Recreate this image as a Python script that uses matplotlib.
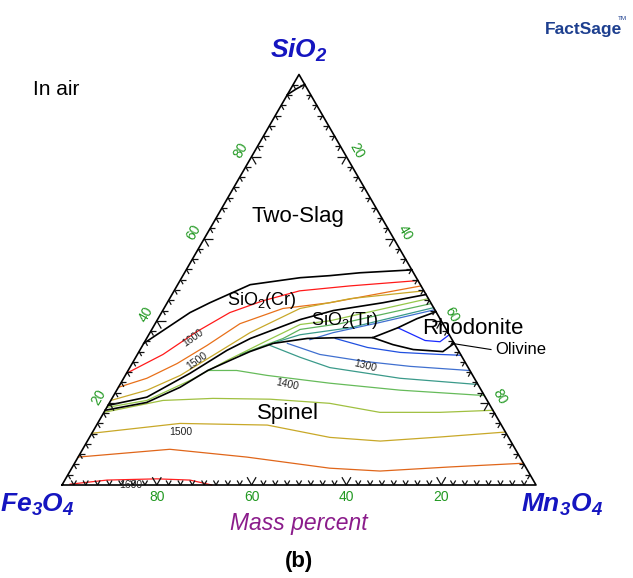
import numpy as np
import matplotlib.pyplot as plt
from matplotlib.collections import LineCollection

plt.rcParams['font.family'] = ['Liberation Sans', 'DejaVu Sans']
plt.rcParams['mathtext.fontset'] = 'custom'
plt.rcParams['mathtext.rm'] = 'Liberation Sans'
plt.rcParams['mathtext.it'] = 'Liberation Sans:italic'
plt.rcParams['mathtext.bf'] = 'Liberation Sans:bold:italic'

# compositions in mass percent as (SiO2, Mn3O4); Fe3O4 makes up the rest
two_slag_top = [(95.1, 0.0), (96.5, 1.2), (97.6, 2.4)]
two_slag_bottom = [(34.5, 0.0), (42.0, 6.0), (44.4, 9.0), (48.8, 15.3), (50.5, 25.0),
                   (51.0, 31.0), (51.7, 37.0), (52.4, 47.6)]
cr_tr_boundary = [(19.4, 0.0), (21.4, 7.2), (27.2, 13.4), (32.8, 18.4), (35.7, 21.9),
                  (40.3, 30.1), (42.5, 36.0), (44.4, 45.5), (46.4, 53.6)]
silica_boundary = [(18.2, 0.0), (20.1, 7.8), (23.8, 13.0), (27.9, 16.8), (30.3, 20.2),
                   (32.5, 23.4), (34.5, 27.3), (35.7, 33.9), (35.9, 40.7), (35.9, 47.6),
                   (38.3, 51.7), (40.5, 54.6), (42.2, 57.8)]
rhodonite_spinel = [(35.9, 47.6), (34.2, 52.7), (33.0, 57.6), (32.5, 64.1), (34.5, 65.5)]

# isotherms: (temperature, colour, points)
cristobalite_iso = [
    (1600, '#ff1a1a', [(27.2, 0.0), (31.8, 5.4), (37.4, 9.8), (42.0, 14.4), (44.9, 20.0),
                       (47.3, 26.5), (48.5, 36.5), (49.8, 50.2)]),
    (1550, '#e8701a', [(23.8, 0.0), (26.0, 4.9), (29.6, 9.5), (34.0, 13.6), (39.3, 17.9),
                       (43.0, 25.1), (44.4, 34.3), (48.5, 51.5)]),
    (1500, '#c8a82a', [(20.6, 0.0), (23.1, 6.4), (26.7, 11.6), (31.6, 16.1), (37.1, 21.1),
                       (43.0, 28.7), (45.4, 38.1), (47.3, 52.7)]),
]
tridymite_iso = [
    (1450, '#96c84a', [(18.9, 0.0), (20.6, 7.6), (25.5, 14.3), (30.3, 19.6), (35.2, 25.7),
                       (39.1, 30.7), (40.0, 36.5), (45.4, 54.6)]),
    (1400, '#5cb25c', [(31.8, 21.7), (35.7, 28.8), (37.9, 31.3), (39.3, 39.0), (44.2, 55.8)]),
    (1350, '#3a9a8a', [(34.7, 27.5), (36.6, 31.9), (38.3, 41.6), (43.2, 56.8)]),
    (1300, '#4070d0', [(35.4, 34.6), (37.1, 38.6), (39.6, 47.3), (42.7, 57.3)]),
]
rhodonite_iso = [
    (1250, '#1a2aff', [(38.3, 51.7), (36.9, 55.0), (35.2, 59.0), (34.9, 62.3), (36.6, 63.4)]),
]
spinel_iso = [
    (1250, '#2050e0', [(35.7, 39.8), (33.5, 47.7), (32.3, 55.2), (31.8, 63.9), (31.6, 68.4)]),
    (1300, '#4070d0', [(34.5, 30.3), (31.8, 38.5), (30.1, 48.8), (28.9, 59.0), (27.9, 71.9)]),
    (1350, '#3a9a8a', [(34.0, 26.9), (31.1, 34.7), (28.6, 42.2), (26.0, 58.3), (24.5, 75.3)]),
    (1400, '#66bb5a', [(27.9, 16.8), (27.9, 22.9), (26.7, 29.9), (24.8, 44.1), (23.1, 59.8),
                       (21.8, 78.1)]),
    (1450, '#a0c040', [(17.7, 0.0), (20.6, 11.0), (21.1, 21.3), (20.9, 33.5), (19.9, 46.5),
                       (17.7, 58.2), (17.7, 70.9), (18.2, 81.8)]),
    (1500, '#c8a828', [(12.6, 0.0), (15.0, 17.4), (14.6, 36.0), (11.6, 50.7), (10.7, 61.8),
                       (11.7, 74.0), (12.9, 87.1)]),
    (1550, '#e0661a', [(6.8, 0.0), (8.7, 18.4), (6.8, 35.6), (4.1, 54.4), (3.4, 65.4),
                       (4.4, 79.7), (5.3, 94.6)]),
    (1600, '#ff2020', [(0.2, 1.6), (1.2, 8.9), (1.5, 19.3), (1.2, 26.4), (0.0, 31.6)]),
]

# isotherm labels: (text, SiO2, Mn3O4, rotation, size)
iso_labels = [('1600', 35.9, 9.6, 35, 7.5), ('1500', 30.3, 13.4, 35, 7.5),
              ('1400', 24.5, 35.2, -12, 7.5), ('1300', 29.1, 49.3, -14, 7.5),
              ('1500', 12.9, 18.7, 0, 7.5), ('1600', 0.0, 14.6, 0, 7.5)]

# phase field labels: (text, SiO2, Mn3O4, size)
field_labels = [('Two-Slag', 65.5, 17.0, 16), (r'SiO$_2$(Cr)', 44.9, 19.7, 13),
                (r'SiO$_2$(Tr)', 40.0, 39.7, 13), ('Rhodonite', 38.1, 67.6, 16),
                ('Spinel', 17.5, 39.0, 16)]

tick_major = [20, 40, 60, 80]
tick_minor_step = 2.5


def tern(points):
    p = np.asarray(points, dtype=float) / 100.0
    s, m = p[:, 0], p[:, 1]
    return m + s / 2.0, s * np.sqrt(3) / 2.0


def tern1(s, m):
    x, y = tern([(s, m)])
    return x[0], y[0]


fig = plt.figure(figsize=(6.33, 5.78), dpi=100)
ax = fig.add_axes([0, 0, 1, 1])
ax.set_xlim(-62 / 474, (633 - 62) / 474)
ax.set_ylim(-(578 - 485) / 474, 485 / 474)
ax.axis('off')

h = np.sqrt(3) / 2
corners = np.array([[0, 0], [1, 0], [0.5, h], [0, 0]])
ax.plot(corners[:, 0], corners[:, 1], color='black', lw=1.2, zorder=5)

# tick marks point inwards, parallel to the two other sides
segs = []
p_fe, p_mn, p_si = np.array([0, 0]), np.array([1, 0]), np.array([0.5, h])
u60 = np.array([0.5, h])
u120 = np.array([-0.5, h])
sides = [(p_fe, p_mn, [u60, u120]),
         (p_fe, p_si, [np.array([1, 0]), np.array([0.5, -h])]),
         (p_si, p_mn, [np.array([-1, 0]), np.array([-0.5, -h])])]
n = int(100 / tick_minor_step)
for a, b, dirs in sides:
    for k in range(1, n):
        pct = k * tick_minor_step
        L = 0.019 if pct in tick_major else 0.011
        p = a + (b - a) * pct / 100
        for d in dirs:
            segs.append([p, p + L * d])
ax.add_collection(LineCollection(segs, colors='#111111', linewidths=0.9, zorder=4))

green = '#229922'
off = 0.026
for v in tick_major:
    # bottom: Fe3O4 percent
    x, y = tern1(0, v)
    ax.text(x, y - off, str(100 - v), color=green, fontsize=10, ha='center', va='center')
    # left: SiO2 percent
    x, y = tern1(v, 0)
    ax.text(x - off * h, y + off * 0.5, str(v), color=green, fontsize=10,
            ha='center', va='center', rotation=60)
    # right: Mn3O4 percent
    x, y = tern1(100 - v, v)
    ax.text(x + off * h, y + off * 0.5, str(v), color=green, fontsize=10,
            ha='center', va='center', rotation=-60)

for pts in [two_slag_top, two_slag_bottom, cr_tr_boundary, silica_boundary, rhodonite_spinel]:
    x, y = tern(pts)
    ax.plot(x, y, color='black', lw=1.2, zorder=3)

for group in [cristobalite_iso, tridymite_iso, rhodonite_iso, spinel_iso]:
    for temp, col, pts in group:
        x, y = tern(pts)
        ax.plot(x, y, color=col, lw=0.9, zorder=2)

for txt, s, m, rot, fs in iso_labels:
    x, y = tern1(s, m)
    ax.text(x, y, txt, fontsize=fs, rotation=rot, ha='center', va='center', color='#222222',
            zorder=6)

for txt, s, m, fs in field_labels:
    x, y = tern1(s, m)
    ax.text(x, y, txt, fontsize=fs, ha='center', va='center', zorder=6)

# olivine field is too small for its label, so point at it
x0, y0 = tern1(34.5, 65.0)
x1, y1 = tern1(33.0, 74.0)
ax.plot([x0, x1], [y0, y1], color='black', lw=0.8)
ax.text(x1 + 0.008, y1, 'Olivine', fontsize=12, ha='left', va='center')

blue = '#1515c0'
ax.text(0.5, h + 0.05, r'$\mathbf{SiO_2}$', color=blue, fontsize=19, ha='center', va='center')
ax.text(-0.053, -0.042, r'$\mathbf{Fe_3O_4}$', color=blue, fontsize=19, ha='center', va='center')
ax.text(1.055, -0.042, r'$\mathbf{Mn_3O_4}$', color=blue, fontsize=19, ha='center', va='center')
ax.text(0.5, -0.082, 'Mass percent', color='#8b1c8b', fontsize=16.5, style='italic',
        ha='center', va='center')
ax.text(0.5, -0.162, '(b)', fontsize=16, fontweight='bold', ha='center', va='center')
ax.text(-0.013, 0.834, 'In air', fontsize=15, ha='center', va='center')

# logo in the top right corner
ax.text(1.100, 0.962, 'FactSage', color='#1d3f8f', fontsize=12.5, fontweight='bold',
        ha='center', va='center')
ax.text(1.183, 0.985, 'TM', color='#1d3f8f', fontsize=4.5, ha='center', va='center')

fig.savefig('out.png', dpi=100)
